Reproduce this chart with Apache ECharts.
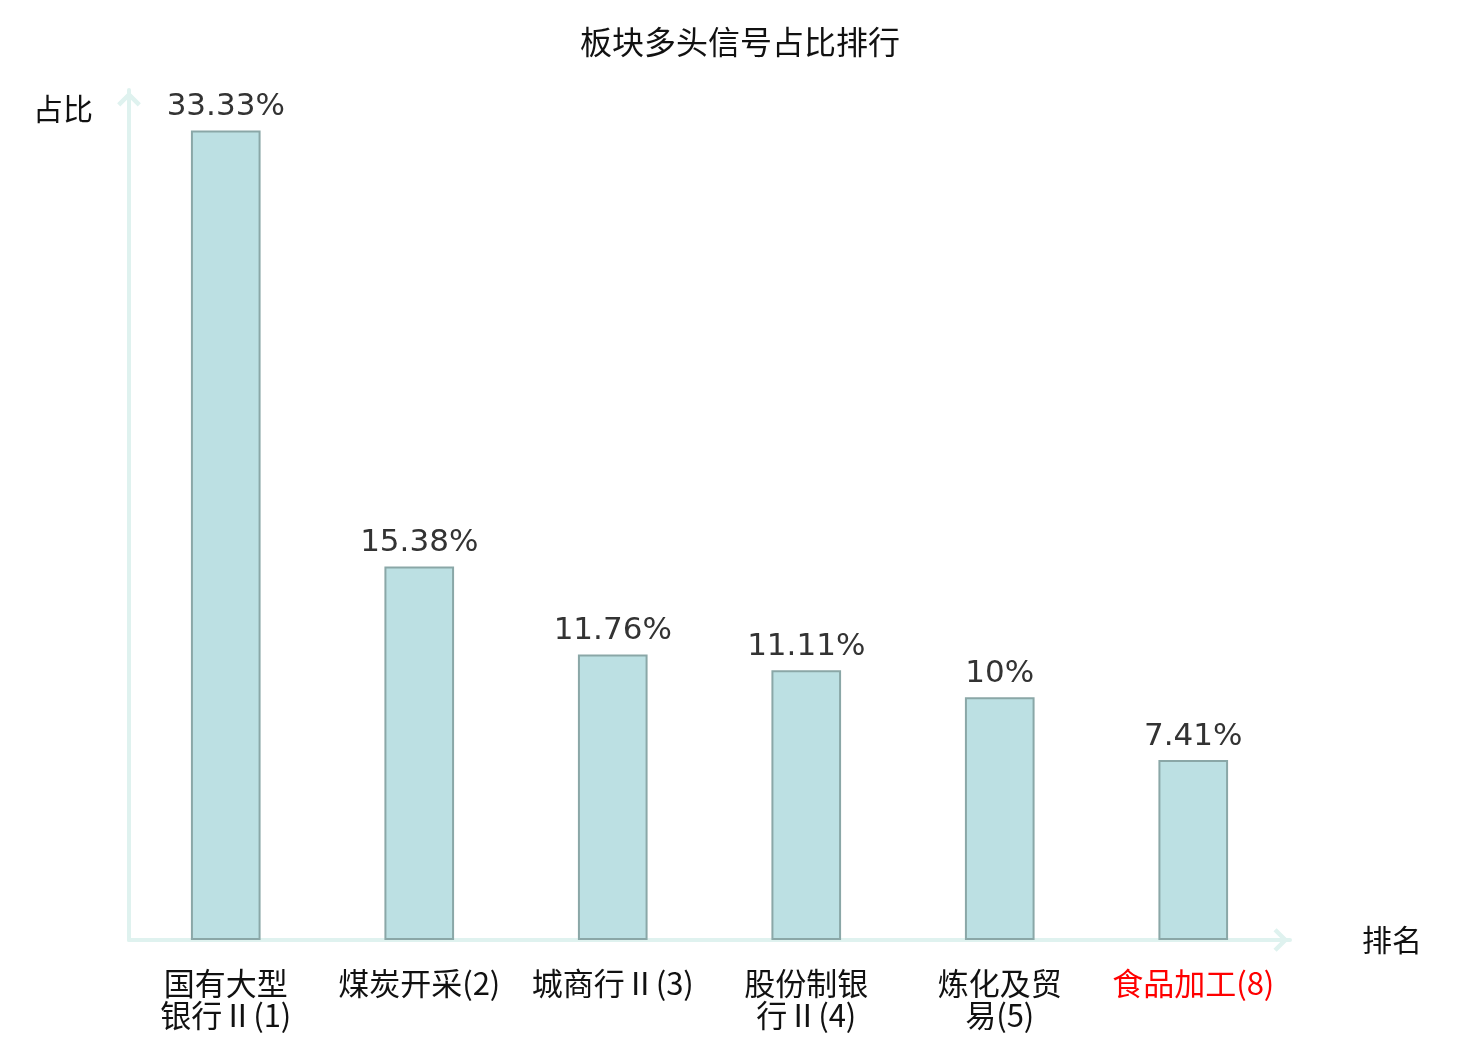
<!DOCTYPE html>
<html>
<head>
<meta charset="utf-8">
<title>板块多头信号占比排行</title>
<script src="https://cdn.jsdelivr.net/npm/echarts@6/dist/echarts.min.js"></script>
<style>
  html, body { margin: 0; padding: 0; background: #fff; }
  #chart { width: 1480px; height: 1040px; }
</style>
</head>
<body>
<div id="chart"></div>
<script>
// 板块名称(排名)
var sectors = ['国有大型银行Ⅱ(1)', '煤炭开采(2)', '城商行Ⅱ(3)', '股份制银行Ⅱ(4)', '炼化及贸易(5)', '食品加工(8)'];
// 多头信号占比 %
var ratios = [33.33, 15.38, 11.76, 11.11, 10, 7.41];
// 需要标红的板块
var highlight = ['食品加工(8)'];

// 名字超过7个字就在第4个字后换行
function wrapName(name) {
  if (name.length <= 7) return name;
  return name.slice(0, 4) + '\n' + name.slice(4);
}

// 空心箭头(朝上，echarts会自己旋转)
var chevron = 'path://M0,17 L17,0 L34,17 L29.5,21.5 L17,9 L4.5,21.5 Z';
var axisColor = '#dff2ef';

var chart = echarts.init(document.getElementById('chart'));
chart.setOption({
  animation: false,
  title: {
    text: '板块多头信号占比排行',
    left: 'center',
    top: 21,
    textStyle: {
      fontSize: 32,
      fontWeight: 'normal',
      color: '#111',
      fontFamily: 'Noto Sans CJK SC'
    }
  },
  grid: {
    left: 129,
    right: 190,
    top: 90,
    bottom: 100,
    containLabel: false,
    outerBoundsMode: 'none'
  },
  xAxis: {
    type: 'category',
    data: sectors,
    name: '排名',
    nameGap: 72,
    nameTextStyle: {
      fontSize: 30,
      color: '#111',
      fontFamily: 'Noto Sans CJK SC'
    },
    axisLine: {
      symbol: ['none', chevron],
      symbolSize: [24, 15],
      symbolOffset: [0, -9],
      lineStyle: { color: axisColor, width: 4 }
    },
    axisTick: { show: false },
    axisLabel: {
      interval: 0,
      margin: 27,
      fontSize: 31,
      lineHeight: 32,
      fontFamily: 'Noto Sans CJK SC',
      color: '#111',
      formatter: function (v) {
        var t = wrapName(v);
        return highlight.indexOf(v) >= 0 ? '{hl|' + t.split('\n').join('}\n{hl|') + '}' : t;
      },
      rich: {
        hl: { color: '#ff0000', fontSize: 31, lineHeight: 32, fontFamily: 'Noto Sans CJK SC' }
      }
    }
  },
  yAxis: {
    type: 'value',
    min: 0,
    max: 35,
    name: '占比',
    nameGap: -4,
    nameTextStyle: {
      fontSize: 30,
      color: '#111',
      align: 'right',
      verticalAlign: 'top',
      padding: [0, 36, 0, 0],
      fontFamily: 'Noto Sans CJK SC'
    },
    axisLine: {
      show: true,
      symbol: ['none', chevron],
      symbolSize: [24, 15],
      symbolOffset: [0, -9],
      lineStyle: { color: axisColor, width: 4 }
    },
    axisTick: { show: false },
    axisLabel: { show: false },
    splitLine: { show: false }
  },
  series: [{
    type: 'bar',
    data: ratios,
    barWidth: '36%',
    itemStyle: {
      color: '#bce0e3',
      borderColor: '#8aa7a7',
      borderWidth: 2
    },
    label: {
      show: true,
      position: 'top',
      distance: 8,
      fontSize: 31,
      color: '#333',
      fontFamily: 'DejaVu Sans',
      formatter: function (p) { return p.value + '%'; }
    }
  }]
});
</script>
</body>
</html>
